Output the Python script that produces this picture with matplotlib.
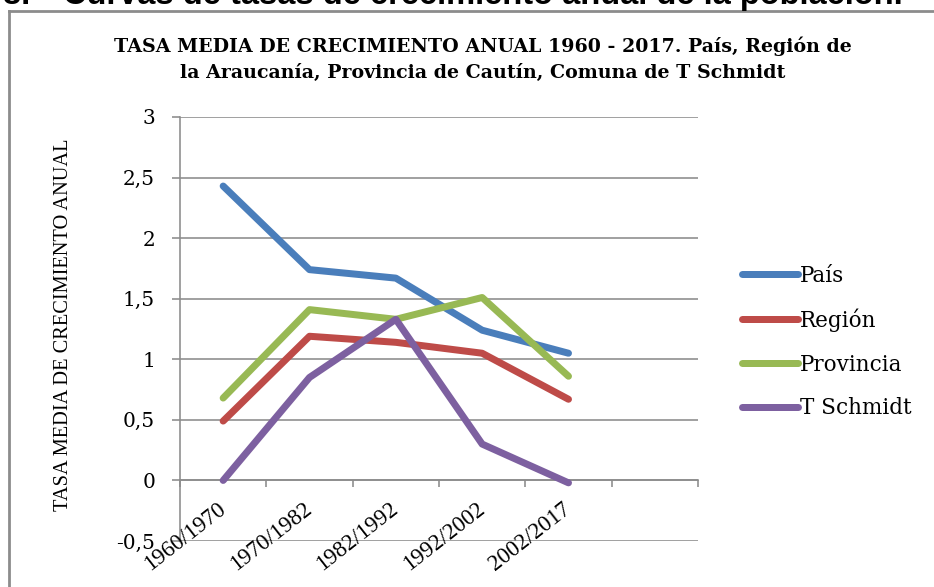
import matplotlib
matplotlib.use("Agg")
import matplotlib.pyplot as plt
import matplotlib.transforms as mtransforms
from matplotlib.lines import Line2D

categories = ["1960/1970", "1970/1982", "1982/1992", "1992/2002", "2002/2017", ""]
series_names = ["País", "Región", "Provincia", "T Schmidt"]
pais = [2.43, 1.74, 1.67, 1.24, 1.05]
region = [0.49, 1.19, 1.14, 1.05, 0.67]
provincia = [0.68, 1.41, 1.33, 1.51, 0.86]
tschmidt = [0.0, 0.85, 1.33, 0.30, -0.02]
yticks = [-0.5, 0, 0.5, 1, 1.5, 2, 2.5, 3]
ytick_labels = ["-0,5", "0", "0,5", "1", "1,5", "2", "2,5", "3"]
colors = ["#4A7EBB", "#BE4B48", "#98B954", "#7D60A0"]

W, H = 934, 587
fig = plt.figure(figsize=(W / 100, H / 100), dpi=100)
fig.patch.set_facecolor("white")

grid_c = "#8C8C8C"
px = 72 / 100  # points per pixel

ax = fig.add_axes([180 / W, 1 - 541 / H, (698 - 180) / W, (541 - 117) / H])
ax.set_xlim(-0.5, len(categories) - 0.5)
ax.set_ylim(-0.5, 3)

for name, vals, c in zip(series_names, [pais, region, provincia, tschmidt], colors):
    ax.plot(range(len(vals)), vals, color=c, lw=7 * px, solid_capstyle="round",
            solid_joinstyle="round", label=name, zorder=3)

ax.set_yticks(yticks)
ax.set_yticklabels(ytick_labels, family="DejaVu Serif", fontsize=14.5)
ax.yaxis.grid(True, color=grid_c, lw=1.6 * px)
ax.set_axisbelow(True)
ax.tick_params(axis="y", length=8 * px, width=1.6 * px, color=grid_c, pad=17 * px)

ax.set_xticks([i - 0.5 for i in range(len(categories) + 1)])
ax.set_xticklabels([])
ax.tick_params(axis="x", length=7 * px, width=1.6 * px, color=grid_c, direction="out")

for s in ["top", "right"]:
    ax.spines[s].set_visible(False)
ax.spines["left"].set_color(grid_c)
ax.spines["left"].set_linewidth(1.6 * px)
ax.spines["bottom"].set_position(("data", 0))
ax.spines["bottom"].set_color(grid_c)
ax.spines["bottom"].set_linewidth(1.6 * px)

off = mtransforms.offset_copy(ax.transData, fig=fig, x=0, y=-26, units="dots")
for i, lab in enumerate(categories):
    if lab:
        ax.text(i, 0, lab, transform=off, rotation=38, rotation_mode="anchor",
                ha="right", va="center", family="Liberation Serif", fontsize=16.5)

leg = ax.legend(loc="upper left", bbox_to_anchor=(742 / W, 1 - 265 / H),
                bbox_transform=fig.transFigure, frameon=False, borderpad=0,
                borderaxespad=0, handlelength=2.6, handletextpad=0.1,
                labelspacing=1.0, prop={"family": "DejaVu Serif", "size": 15.5})

fig.text(483 / W, 1 - 46 / H, "TASA MEDIA DE CRECIMIENTO ANUAL 1960 - 2017. País, Región de",
         ha="center", va="center", family="DejaVu Serif", weight="bold", fontsize=13.7)
fig.text(483 / W, 1 - 73 / H, "la Araucanía, Provincia de Cautín, Comuna de T Schmidt",
         ha="center", va="center", family="DejaVu Serif", weight="bold", fontsize=13.7)

fig.text(64 / W, 1 - 325 / H, "TASA MEDIA DE CRECIMIENTO ANUAL", rotation=90,
         ha="center", va="center", family="Liberation Serif", fontsize=14.7)

fig.text(3 / W, 1 - 4 / H, "8.", ha="left", va="baseline",
         family="Liberation Sans", weight="bold", fontsize=23.5)
fig.text(63 / W, 1 - 4 / H, "Curvas de tasas de crecimiento anual de la población.",
         ha="left", va="baseline", family="Liberation Sans", weight="bold", fontsize=23.5)

fig.add_artist(Line2D([9 / W, 9 / W], [0, 1 - 11 / H], transform=fig.transFigure,
                      color="#8C8C8C", lw=2))
fig.add_artist(Line2D([9 / W, 1], [1 - 11 / H, 1 - 11 / H], transform=fig.transFigure,
                      color="#8C8C8C", lw=2))

fig.savefig("out.png", dpi=100, facecolor="white")
